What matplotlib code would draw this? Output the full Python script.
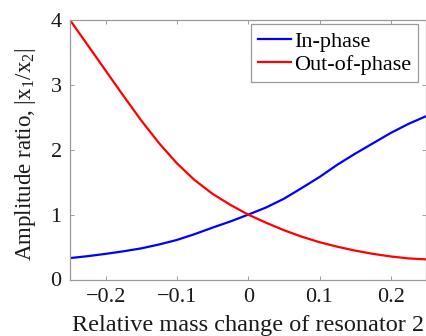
import numpy as np
import matplotlib.pyplot as plt

plt.rcParams['font.family'] = ['Liberation Serif', 'DejaVu Serif']
plt.rcParams['mathtext.fontset'] = 'custom'
plt.rcParams['mathtext.rm'] = 'Liberation Serif'
plt.rcParams['mathtext.it'] = 'Liberation Serif'

# relative mass change of resonator 2
dm = np.array([-0.25, -0.225, -0.2, -0.175, -0.15, -0.125, -0.1, -0.075, -0.05, -0.025,
               0.0, 0.025, 0.05, 0.075, 0.1, 0.125, 0.15, 0.175, 0.2, 0.225, 0.25])

# amplitude ratio |x1/x2| for each mode
in_phase = np.array([0.33, 0.36, 0.395, 0.435, 0.48, 0.54, 0.61, 0.70, 0.80, 0.895,
                     1.00, 1.11, 1.245, 1.41, 1.58, 1.77, 1.94, 2.10, 2.26, 2.40, 2.52])
out_of_phase = np.array([4.00, 3.61, 3.22, 2.83, 2.45, 2.10, 1.79, 1.53, 1.32, 1.15,
                         1.00, 0.875, 0.76, 0.66, 0.575, 0.505, 0.445, 0.395, 0.355, 0.325, 0.31])

xticks = [-0.2, -0.1, 0, 0.1, 0.2]
xticklabels = ['\u22120.2', '\u22120.1', '0', '0.1', '0.2']
yticks = [0, 1, 2, 3, 4]

W, H = 427, 336
fig = plt.figure(figsize=(W / 100, H / 100), dpi=100)
ax = fig.add_axes([70 / W, 1 - 279.5 / H, 356.5 / W, 259.5 / H])

ax.plot(dm, in_phase, color='#0000ff', lw=1.6, label='In-phase')
ax.plot(dm, out_of_phase, color='#ff0000', lw=1.6, label='Out-of-phase')

ax.set_xlim(-0.25, 0.25)
ax.set_ylim(0, 4)
ax.set_xticks(xticks)
ax.set_xticklabels(xticklabels)
ax.set_yticks(yticks)

grey = '#9a9a9a'
for s in ax.spines.values():
    s.set_color(grey)
    s.set_linewidth(0.9)
ax.tick_params(direction='in', top=True, right=True, length=3, width=0.7,
               color=grey, labelcolor='#1a1a1a', labelsize=16, pad=6)

ax.set_xlabel('Relative mass change of resonator 2', fontsize=17.5, color='#1a1a1a', labelpad=6)
ax.set_ylabel('Amplitude ratio, |x$_1$/x$_2$|', fontsize=16.5, color='#1a1a1a')
ax.yaxis.set_label_coords(-0.09, 0.48)

leg = ax.legend(loc='upper right', bbox_to_anchor=(0.977, 0.983), fontsize=16,
                frameon=True, fancybox=False, edgecolor=grey, framealpha=1,
                handlelength=1.5, handletextpad=0.15, labelspacing=0.12,
                borderpad=0.3, borderaxespad=0.0)
leg.get_frame().set_linewidth(0.9)

fig.savefig('out.png', dpi=100)
